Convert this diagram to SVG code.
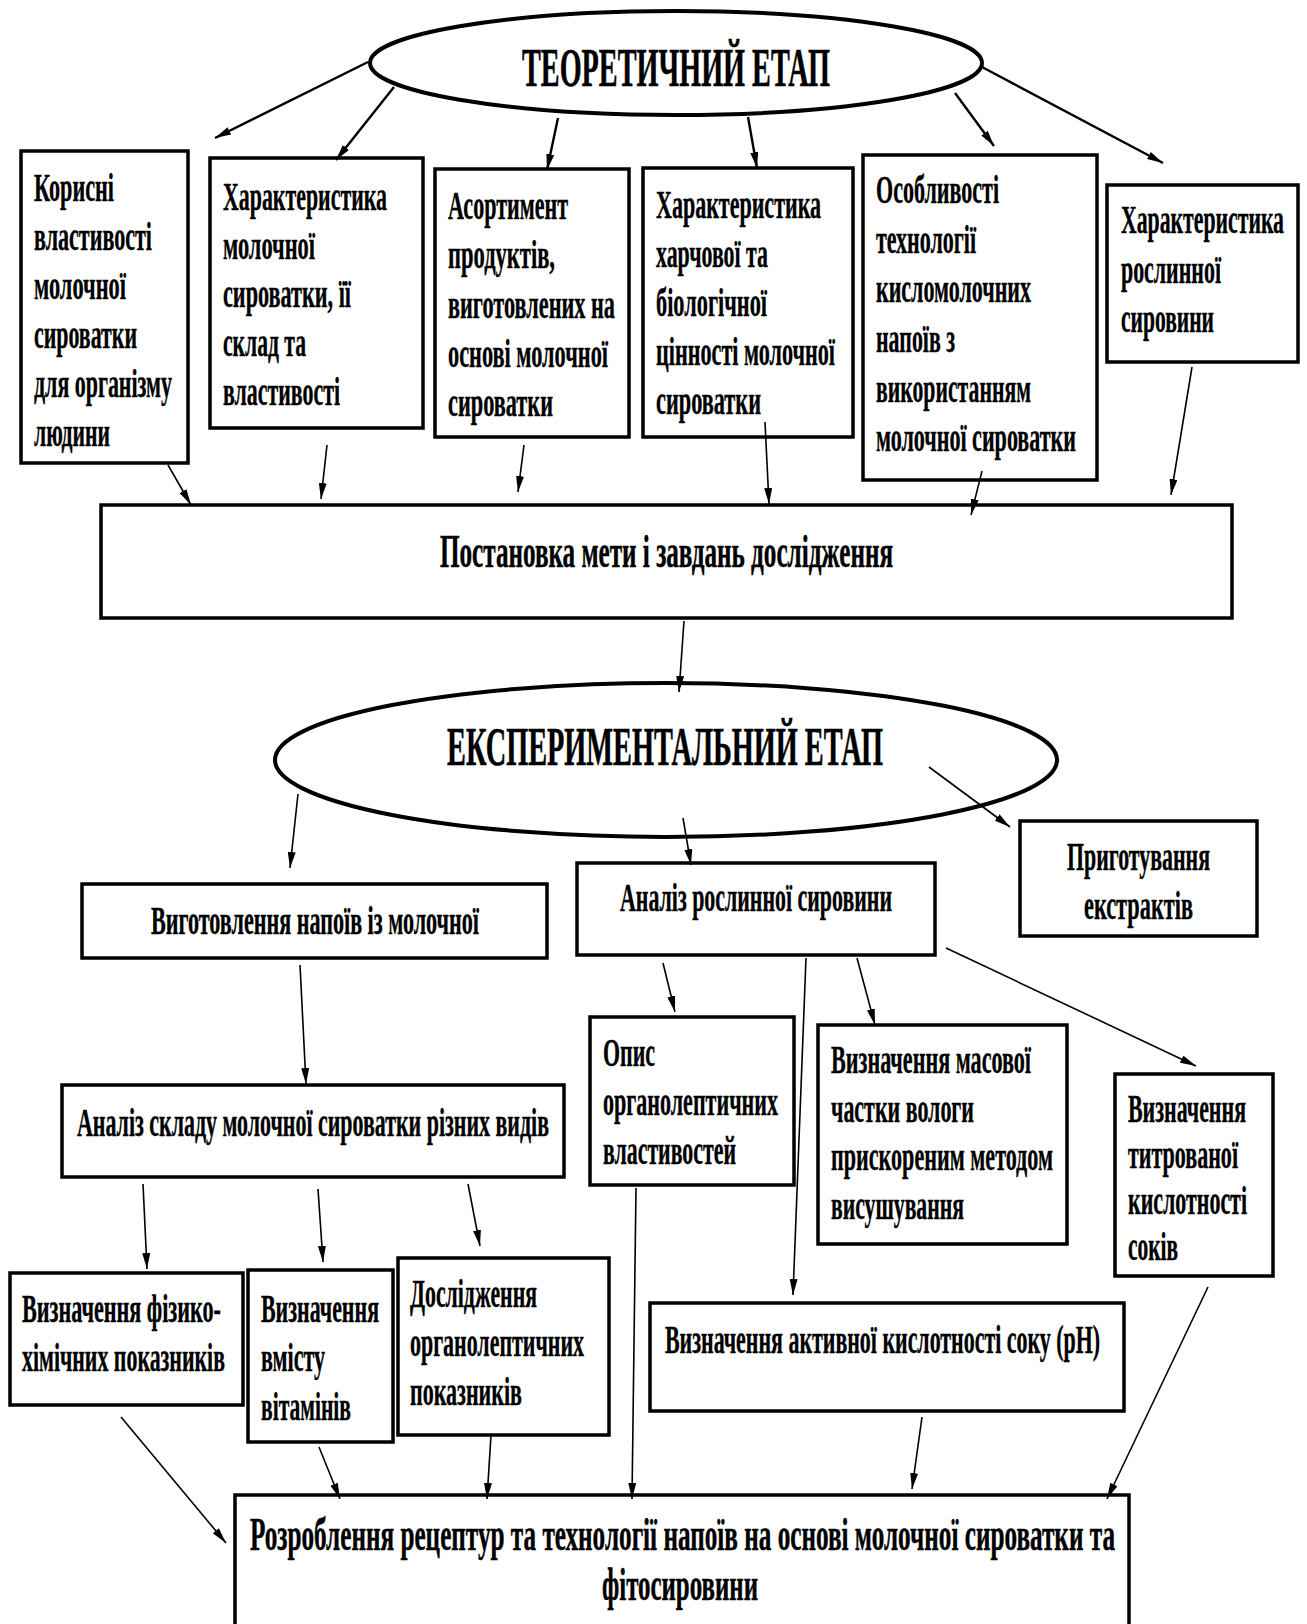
<svg xmlns="http://www.w3.org/2000/svg" width="1307" height="1624" viewBox="0 0 1307 1624">
<style>
.bx{fill:#fff;stroke:#000;stroke-width:3.5}
.el{fill:#fff;stroke:#000;stroke-width:4}
.t{font-family:"Liberation Serif","Times New Roman",serif;font-weight:bold;font-size:40px;fill:#000;stroke:#000;stroke-width:0.4}
.tt{font-size:54px;stroke-width:0.6}
.tm{font-size:46px;stroke-width:0.5}
.c line{stroke:#000;stroke-width:1.6;marker-end:url(#ah)}
.c line.k{stroke-width:2.4}
</style>
<defs>
<marker id="ah" viewBox="0 0 16 8" refX="16" refY="4" markerWidth="16" markerHeight="8" markerUnits="userSpaceOnUse" orient="auto">
<path d="M0,0 L16,4 L0,8 z" fill="#000"/>
</marker>
</defs>
<rect width="1307" height="1624" fill="#fff"/>

<g id="theory">
<ellipse class="el" cx="676" cy="63" rx="306" ry="52"/>
<text class="t tt" x="522" y="86" textLength="308" lengthAdjust="spacingAndGlyphs">ТЕОРЕТИЧНИЙ ЕТАП</text>
</g>

<g id="box1">
<rect class="bx" x="21" y="151" width="167" height="312"/>
<text class="t" x="34" y="201" textLength="80" lengthAdjust="spacingAndGlyphs">Корисні</text>
<text class="t" x="34" y="250" textLength="118" lengthAdjust="spacingAndGlyphs">властивості</text>
<text class="t" x="34" y="299" textLength="92" lengthAdjust="spacingAndGlyphs">молочної</text>
<text class="t" x="34" y="348" textLength="103" lengthAdjust="spacingAndGlyphs">сироватки</text>
<text class="t" x="34" y="397" textLength="138" lengthAdjust="spacingAndGlyphs">для організму</text>
<text class="t" x="34" y="446" textLength="76" lengthAdjust="spacingAndGlyphs">людини</text>
</g>

<g id="box2">
<rect class="bx" x="210" y="158" width="213" height="270"/>
<text class="t" x="223" y="210" textLength="164" lengthAdjust="spacingAndGlyphs">Характеристика</text>
<text class="t" x="223" y="259" textLength="92" lengthAdjust="spacingAndGlyphs">молочної</text>
<text class="t" x="223" y="307" textLength="128" lengthAdjust="spacingAndGlyphs">сироватки, її</text>
<text class="t" x="223" y="356" textLength="83" lengthAdjust="spacingAndGlyphs">склад та</text>
<text class="t" x="223" y="405" textLength="117" lengthAdjust="spacingAndGlyphs">властивості</text>
</g>

<g id="box3">
<rect class="bx" x="435" y="169" width="194" height="268"/>
<text class="t" x="448" y="219" textLength="120" lengthAdjust="spacingAndGlyphs">Асортимент</text>
<text class="t" x="448" y="268" textLength="107" lengthAdjust="spacingAndGlyphs">продуктів,</text>
<text class="t" x="448" y="318" textLength="167" lengthAdjust="spacingAndGlyphs">виготовлених на</text>
<text class="t" x="448" y="367" textLength="160" lengthAdjust="spacingAndGlyphs">основі молочної</text>
<text class="t" x="448" y="416" textLength="105" lengthAdjust="spacingAndGlyphs">сироватки</text>
</g>

<g id="box4">
<rect class="bx" x="643" y="168" width="210" height="269"/>
<text class="t" x="656" y="218" textLength="165" lengthAdjust="spacingAndGlyphs">Характеристика</text>
<text class="t" x="656" y="267" textLength="112" lengthAdjust="spacingAndGlyphs">харчової та</text>
<text class="t" x="656" y="316" textLength="111" lengthAdjust="spacingAndGlyphs">біологічної</text>
<text class="t" x="656" y="365" textLength="179" lengthAdjust="spacingAndGlyphs">цінності молочної</text>
<text class="t" x="656" y="414" textLength="105" lengthAdjust="spacingAndGlyphs">сироватки</text>
</g>

<g id="box5">
<rect class="bx" x="863" y="155" width="234" height="325"/>
<text class="t" x="876" y="203" textLength="123" lengthAdjust="spacingAndGlyphs">Особливості</text>
<text class="t" x="876" y="253" textLength="100" lengthAdjust="spacingAndGlyphs">технології</text>
<text class="t" x="876" y="302" textLength="155" lengthAdjust="spacingAndGlyphs">кисломолочних</text>
<text class="t" x="876" y="352" textLength="79" lengthAdjust="spacingAndGlyphs">напоїв з</text>
<text class="t" x="876" y="402" textLength="155" lengthAdjust="spacingAndGlyphs">використанням</text>
<text class="t" x="876" y="451" textLength="200" lengthAdjust="spacingAndGlyphs">молочної сироватки</text>
</g>

<g id="box6">
<rect class="bx" x="1107" y="185" width="191" height="177"/>
<text class="t" x="1121" y="233" textLength="163" lengthAdjust="spacingAndGlyphs">Характеристика</text>
<text class="t" x="1121" y="283" textLength="100" lengthAdjust="spacingAndGlyphs">рослинної</text>
<text class="t" x="1121" y="332" textLength="93" lengthAdjust="spacingAndGlyphs">сировини</text>
</g>

<g id="goal">
<rect class="bx" x="101" y="505" width="1131" height="113"/>
<text class="t tm" x="440" y="567" textLength="453" lengthAdjust="spacingAndGlyphs">Постановка мети і завдань дослідження</text>
</g>

<g id="experiment">
<ellipse class="el" cx="666" cy="760" rx="391" ry="77"/>
<text class="t tt" x="447" y="765" textLength="436" lengthAdjust="spacingAndGlyphs">ЕКСПЕРИМЕНТАЛЬНИЙ ЕТАП</text>
</g>

<g id="making">
<rect class="bx" x="82" y="884" width="465" height="74"/>
<text class="t" x="151" y="934" textLength="328" lengthAdjust="spacingAndGlyphs">Виготовлення напоїв із молочної</text>
</g>

<g id="plant">
<rect class="bx" x="577" y="863" width="358" height="92"/>
<text class="t" x="620" y="911" textLength="272" lengthAdjust="spacingAndGlyphs">Аналіз рослинної сировини</text>
</g>

<g id="extracts">
<rect class="bx" x="1020" y="821" width="237" height="115"/>
<text class="t" x="1067" y="870" textLength="143" lengthAdjust="spacingAndGlyphs">Приготування</text>
<text class="t" x="1084" y="919" textLength="109" lengthAdjust="spacingAndGlyphs">екстрактів</text>
</g>

<g id="whey">
<rect class="bx" x="62" y="1085" width="502" height="92"/>
<text class="t" x="77" y="1136" textLength="472" lengthAdjust="spacingAndGlyphs">Аналіз складу молочної сироватки різних видів</text>
</g>

<g id="physchem">
<rect class="bx" x="10" y="1273" width="233" height="132"/>
<text class="t" x="22" y="1322" textLength="199" lengthAdjust="spacingAndGlyphs">Визначення фізико-</text>
<text class="t" x="22" y="1371" textLength="203" lengthAdjust="spacingAndGlyphs">хімічних показників</text>
</g>

<g id="vitamins">
<rect class="bx" x="248" y="1270" width="145" height="172"/>
<text class="t" x="261" y="1322" textLength="118" lengthAdjust="spacingAndGlyphs">Визначення</text>
<text class="t" x="261" y="1371" textLength="64" lengthAdjust="spacingAndGlyphs">вмісту</text>
<text class="t" x="261" y="1420" textLength="90" lengthAdjust="spacingAndGlyphs">вітамінів</text>
</g>

<g id="organo">
<rect class="bx" x="398" y="1258" width="211" height="177"/>
<text class="t" x="410" y="1307" textLength="127" lengthAdjust="spacingAndGlyphs">Дослідження</text>
<text class="t" x="410" y="1356" textLength="174" lengthAdjust="spacingAndGlyphs">органолептичних</text>
<text class="t" x="410" y="1405" textLength="112" lengthAdjust="spacingAndGlyphs">показників</text>
</g>

<g id="descr">
<rect class="bx" x="590" y="1017" width="204" height="168"/>
<text class="t" x="603" y="1066" textLength="52" lengthAdjust="spacingAndGlyphs">Опис</text>
<text class="t" x="603" y="1115" textLength="175" lengthAdjust="spacingAndGlyphs">органолептичних</text>
<text class="t" x="603" y="1164" textLength="133" lengthAdjust="spacingAndGlyphs">властивостей</text>
</g>

<g id="moisture">
<rect class="bx" x="818" y="1025" width="249" height="219"/>
<text class="t" x="831" y="1073" textLength="200" lengthAdjust="spacingAndGlyphs">Визначення масової</text>
<text class="t" x="831" y="1122" textLength="143" lengthAdjust="spacingAndGlyphs">частки вологи</text>
<text class="t" x="831" y="1170" textLength="222" lengthAdjust="spacingAndGlyphs">прискореним методом</text>
<text class="t" x="831" y="1219" textLength="133" lengthAdjust="spacingAndGlyphs">висушування</text>
</g>

<g id="titr">
<rect class="bx" x="1115" y="1074" width="158" height="202"/>
<text class="t" x="1128" y="1122" textLength="118" lengthAdjust="spacingAndGlyphs">Визначення</text>
<text class="t" x="1128" y="1168" textLength="110" lengthAdjust="spacingAndGlyphs">титрованої</text>
<text class="t" x="1128" y="1214" textLength="119" lengthAdjust="spacingAndGlyphs">кислотності</text>
<text class="t" x="1128" y="1260" textLength="50" lengthAdjust="spacingAndGlyphs">соків</text>
</g>

<g id="ph">
<rect class="bx" x="650" y="1303" width="474" height="108"/>
<text class="t" x="665" y="1353" textLength="435" lengthAdjust="spacingAndGlyphs">Визначення активної кислотності соку (pH)</text>
</g>

<g id="result">
<rect class="bx" x="235" y="1495" width="894" height="160"/>
<text class="t tm" x="250" y="1550" textLength="865" lengthAdjust="spacingAndGlyphs">Розроблення рецептур та технології напоїв на основі молочної сироватки та</text>
<text class="t tm" x="602" y="1600" textLength="156" lengthAdjust="spacingAndGlyphs">фітосировини</text>
</g>

<g id="connectors" class="c">
<line class="k" x1="368" y1="62" x2="215" y2="138"/>
<line class="k" x1="394" y1="87" x2="336" y2="160"/>
<line class="k" x1="558" y1="118" x2="547" y2="170"/>
<line class="k" x1="748" y1="117" x2="757" y2="168"/>
<line class="k" x1="955" y1="93" x2="994" y2="146"/>
<line class="k" x1="982" y1="67" x2="1163" y2="163"/>
<line x1="168" y1="465" x2="191" y2="505"/>
<line x1="327" y1="445" x2="321" y2="499"/>
<line x1="524" y1="445" x2="518" y2="492"/>
<line x1="765" y1="422" x2="769" y2="504"/>
<line x1="982" y1="471" x2="971" y2="515"/>
<line x1="1192" y1="367" x2="1171" y2="495"/>
<line x1="684" y1="621" x2="679" y2="692"/>
<line x1="298" y1="794" x2="290" y2="868"/>
<line x1="683" y1="818" x2="691" y2="865"/>
<line x1="929" y1="767" x2="1010" y2="827"/>
<line x1="300" y1="965" x2="306" y2="1084"/>
<line x1="143" y1="1184" x2="147" y2="1269"/>
<line x1="318" y1="1189" x2="323" y2="1262"/>
<line x1="468" y1="1184" x2="480" y2="1246"/>
<line x1="663" y1="963" x2="675" y2="1012"/>
<line x1="806" y1="958" x2="793" y2="1295"/>
<line x1="857" y1="958" x2="875" y2="1025"/>
<line x1="946" y1="948" x2="1196" y2="1066"/>
<line x1="121" y1="1417" x2="226" y2="1543"/>
<line x1="319" y1="1447" x2="340" y2="1499"/>
<line x1="491" y1="1435" x2="487" y2="1499"/>
<line x1="636" y1="1188" x2="632" y2="1499"/>
<line x1="922" y1="1417" x2="912" y2="1489"/>
<line x1="1208" y1="1287" x2="1107" y2="1499"/>
</g>
</svg>
